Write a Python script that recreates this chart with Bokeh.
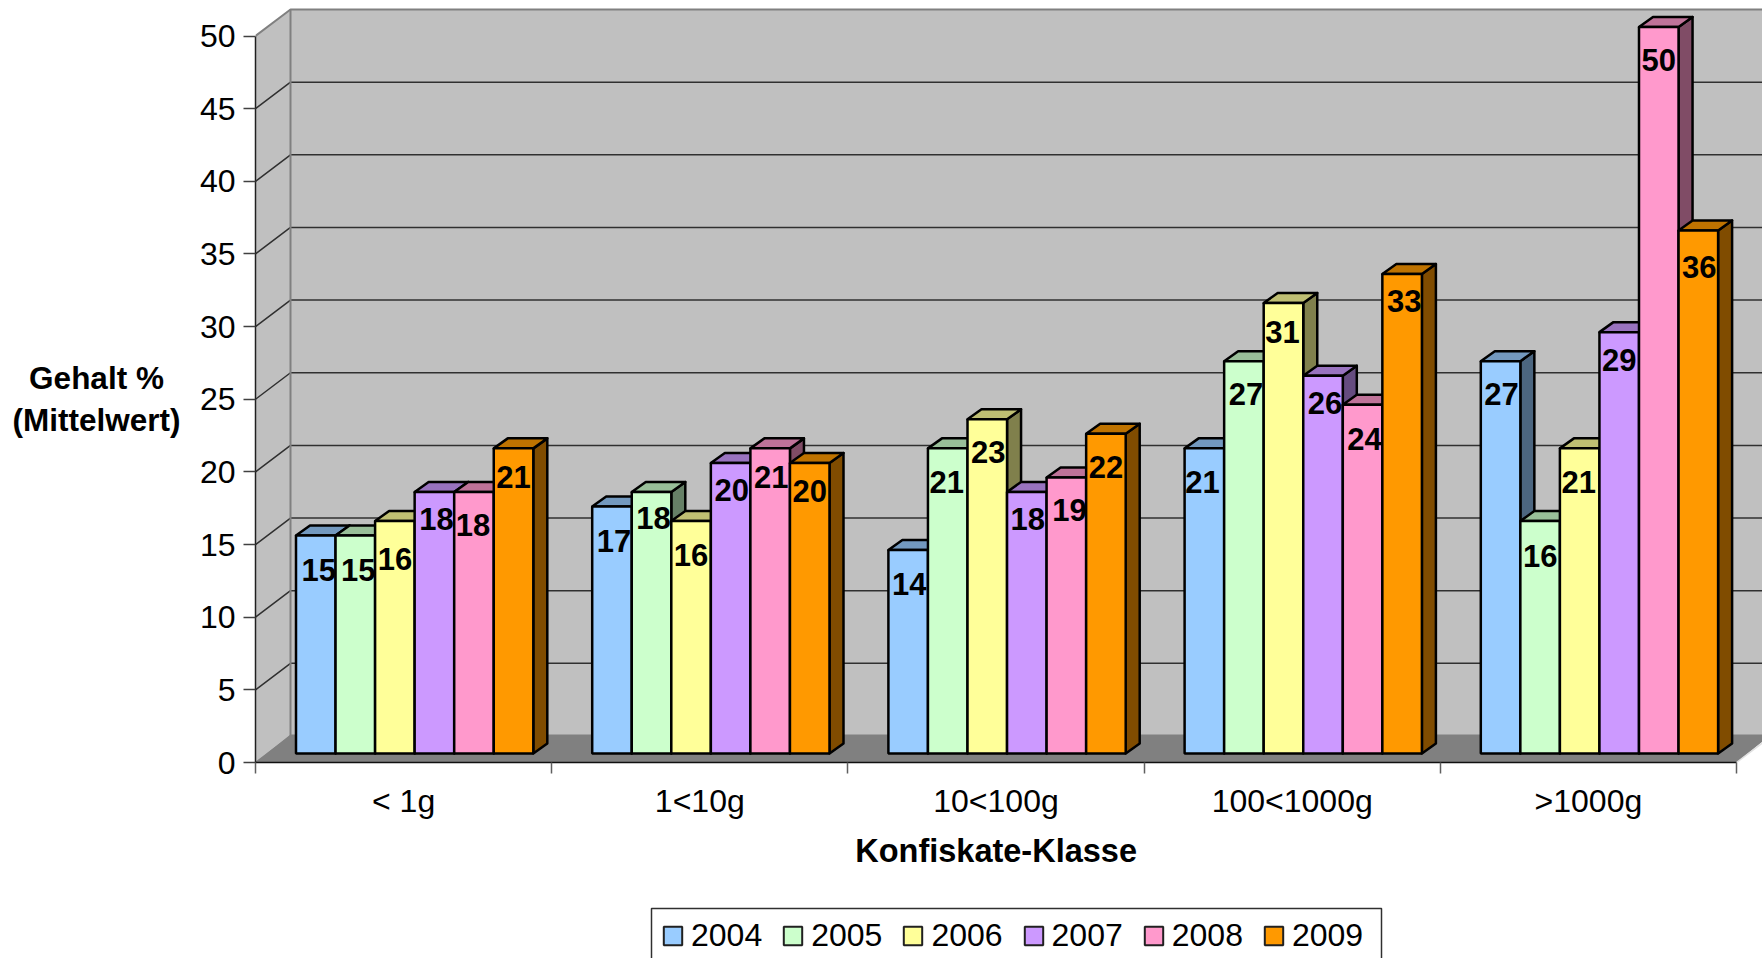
from bokeh.plotting import figure
from bokeh.layouts import column, row
from bokeh.models import ColumnDataSource, FixedTicker, Legend, LegendItem, LinearAxis, Range1d
from bokeh.core.properties import value
from bokeh.embed import file_html
from bokeh.resources import INLINE

categories = ["< 1g", "1<10g", "10<100g", "100<1000g", ">1000g"]
years = ["2004", "2005", "2006", "2007", "2008", "2009"]
y2004 = [15, 17, 14, 21, 27]
y2005 = [15, 18, 21, 27, 16]
y2006 = [16, 16, 23, 31, 21]
y2007 = [18, 20, 18, 26, 29]
y2008 = [18, 21, 19, 24, 50]
y2009 = [21, 20, 22, 33, 36]
series = [y2004, y2005, y2006, y2007, y2008, y2009]
y_ticks = [0, 5, 10, 15, 20, 25, 30, 35, 40, 45, 50]
y_title = ["Gehalt %", "(Mittelwert)"]
x_title = "Konfiskate-Klasse"

front_colors = ["#99CCFF", "#CCFFCC", "#FFFF99", "#CC99FF", "#FF99CC", "#FF9900"]
top_colors = ["#7399BF", "#99BF99", "#BFBF73", "#9973BF", "#BF7399", "#BF7300"]
side_colors = ["#4C6680", "#668066", "#80804C", "#664C80", "#804C66", "#804C00"]

# label nudges from the bar's top centre, one row per year, px
label_dx = [[3, 2, 1, -2, 1], [3, 2, -1, 2, 0], [0, 0, 1, -1, -1],
            [2, 1, 1, 2, 0], [-1, 1, 3, 2, 0], [0, 0, 0, 2, 1]]
label_dy = [[34, 35, 34, 34, 33], [34, 26, 34, 33, 35], [38, 34, 33, 29, 34],
            [27, 27, 27, 27, 28], [33, 29, 33, 34, 33], [29, 28, 33, 27, 37]]

# layout, px on the page
PX_X = 296.2        # one category
PX_Y = 14.53        # one value unit
PAGE_W, PAGE_H = 1762, 958
STRIP_W = 190       # left strip with the value-axis title
MAIN_H = 830        # height of the strip and the chart; the rest goes to the bottom strip
LEFT = 65
BOTTOM = 68
AXIS_Y = MAIN_H - BOTTOM                      # page y of the category axis
DX, DY = 35 / PX_X, 26.5 / PX_Y               # wall depth
FLOOR_DY = 28 / PX_Y
BAR_X0 = 40.5 / PX_X                          # first bar from category start
BAR_W = 39.55 / PX_X
LIFT = 9 / PX_Y                               # bar bases above the front edge
SDX, SDY = 14 / PX_X, 10 / PX_Y               # bar depth
FONT = "Liberation Sans"

main_w = PAGE_W - STRIP_W
p = figure(width=main_w, height=MAIN_H, output_backend="svg", toolbar_location=None,
           x_range=Range1d(0, (main_w - LEFT) / PX_X),
           y_range=Range1d(0, (MAIN_H - BOTTOM) / PX_Y),
           min_border_left=LEFT, min_border_bottom=BOTTOM, min_border_right=0, min_border_top=0,
           x_axis_type=None, y_axis_type=None, outline_line_color=None,
           background_fill_color="white", border_fill_color="white")
p.grid.visible = False

n = len(categories)
ymax = y_ticks[-1]
WALL_END = n + DX

# back wall, side wall, floor
p.patch([DX, WALL_END, WALL_END, DX], [DY, DY, ymax + DY, ymax + DY], fill_color="#C0C0C0", line_color=None)
p.patch([0, DX, DX, 0], [0, DY, ymax + DY, ymax], fill_color="#C0C0C0", line_color=None)
p.patch([0, n, n + DX, DX], [0, 0, FLOOR_DY, FLOOR_DY], fill_color="#808080", line_color=None)

# grid
inner = y_ticks[1:-1]
p.multi_line([[0, DX, WALL_END] for _ in inner], [[t, t + DY, t + DY] for t in inner],
             line_color="#303030", line_width=1.5)
p.line([0, DX, WALL_END], [ymax, ymax + DY, ymax + DY], line_color="#808080", line_width=2)
p.line([DX, DX], [DY, ymax + DY], line_color="#808080", line_width=2)
p.line([0, DX], [0, DY], line_color="#808080", line_width=1.5)
p.line([n, n + DX], [0, DY], line_color="#E0E0E0", line_width=1.5)

# bars
lab_x, lab_y, lab_t, lab_dx, lab_dy = [], [], [], [], []
for s, vals in enumerate(series):
    x0 = [g + BAR_X0 + s * BAR_W for g in range(n)]
    x1 = [x + BAR_W for x in x0]
    top = [v + LIFT for v in vals]
    bot = [LIFT] * n
    p.patches([[b, b + SDX, b + SDX, b] for b in x1],
              [[bo, bo + SDY, t + SDY, t] for bo, t in zip(bot, top)],
              fill_color=side_colors[s], line_color="black", line_width=2.5, line_join="round")
    p.patches([[a, a + SDX, b + SDX, b] for a, b in zip(x0, x1)],
              [[t, t + SDY, t + SDY, t] for t in top],
              fill_color=top_colors[s], line_color="black", line_width=2.5, line_join="round")
    p.quad(left=x0, right=x1, bottom=bot, top=top,
           fill_color=front_colors[s], line_color="black", line_width=2.5)
    for g in range(n):
        lab_x.append((x0[g] + x1[g]) / 2)
        lab_y.append(top[g])
        lab_t.append(str(vals[g]))
        lab_dx.append(label_dx[s][g])
        lab_dy.append(label_dy[s][g])

p.text(x="x", y="y", text="t", x_offset="dx", y_offset="dy",
       source=ColumnDataSource(dict(x=lab_x, y=lab_y, t=lab_t, dx=lab_dx, dy=lab_dy)),
       text_font=value(FONT), text_font_style="bold", text_font_size="31px",
       text_align="center", text_baseline="middle", text_color="black")

# axes
ya = LinearAxis(ticker=FixedTicker(ticks=y_ticks), bounds=(0, ymax),
                axis_line_color="#202020", axis_line_width=1.5,
                major_tick_line_color="#404040", major_tick_line_width=1.5,
                major_tick_out=12, major_tick_in=0, minor_tick_out=0, minor_tick_in=0,
                major_label_standoff=8, major_label_text_font=FONT,
                major_label_text_font_size="32px", major_label_text_color="black")
p.add_layout(ya, "left")

xa = LinearAxis(ticker=FixedTicker(ticks=[i + 0.5 for i in range(n)], minor_ticks=list(range(n + 1))),
                bounds=(0, n),
                major_label_overrides={i + 0.5: c for i, c in enumerate(categories)},
                axis_line_color="#101010", axis_line_width=1.5,
                major_tick_out=0, major_tick_in=0, minor_tick_out=11, minor_tick_in=0,
                minor_tick_line_color="#606060", minor_tick_line_width=1.5,
                major_label_standoff=9, major_label_text_font=FONT,
                major_label_text_font_size="32px", major_label_text_color="black")
p.add_layout(xa, "below")


def strip(w, h, xr, yr):
    f = figure(width=w, height=h, output_backend="svg", toolbar_location=None,
               x_range=xr, y_range=yr, x_axis_type=None, y_axis_type=None,
               min_border_left=0, min_border_right=0, min_border_top=0, min_border_bottom=0,
               outline_line_color=None, background_fill_color="white", border_fill_color="white")
    f.grid.visible = False
    return f


# left strip: value-axis title, in page pixels (its frame lines up with the chart's frame)
left = strip(STRIP_W, MAIN_H, Range1d(0, STRIP_W), Range1d(AXIS_Y, 0))
left.text(x=[96, 96], y=[377, 419], text=y_title,
          text_font=value(FONT), text_font_style="bold", text_font_size="31.5px",
          text_align="center", text_baseline="middle", text_color="black")

# bottom strip: category-axis title and legend, in page pixels
low = strip(PAGE_W, PAGE_H - MAIN_H, Range1d(0, PAGE_W), Range1d(PAGE_H, MAIN_H))
low.text(x=[995.6], y=[850], text=[x_title],
         text_font=value(FONT), text_font_style="bold", text_font_size="32.5px",
         text_align="center", text_baseline="middle", text_color="black")
low.multi_line([[651, 651, 1381, 1381]], [[958, 908, 908, 958]], line_color="#303030", line_width=1.5)

legend_items = []
for s, year in enumerate(years):
    r = low.quad(left=[-20], right=[-10], top=[PAGE_H], bottom=[MAIN_H],
                 fill_color=front_colors[s], line_color="#202020", line_width=2)
    legend_items.append(LegendItem(label=year, renderers=[r]))

legend = Legend(items=legend_items, orientation="horizontal", location=(661, 4),
                padding=0, margin=0, spacing=19, glyph_width=23, glyph_height=23,
                label_standoff=7, label_height=36, label_width=0,
                label_text_font=FONT, label_text_font_size="32px", label_text_color="black",
                border_line_color=None, background_fill_alpha=0)
low.add_layout(legend, "center")

page = column(row(left, p, spacing=0), low, spacing=0)
open("out.html", "w").write(file_html(page, INLINE))
